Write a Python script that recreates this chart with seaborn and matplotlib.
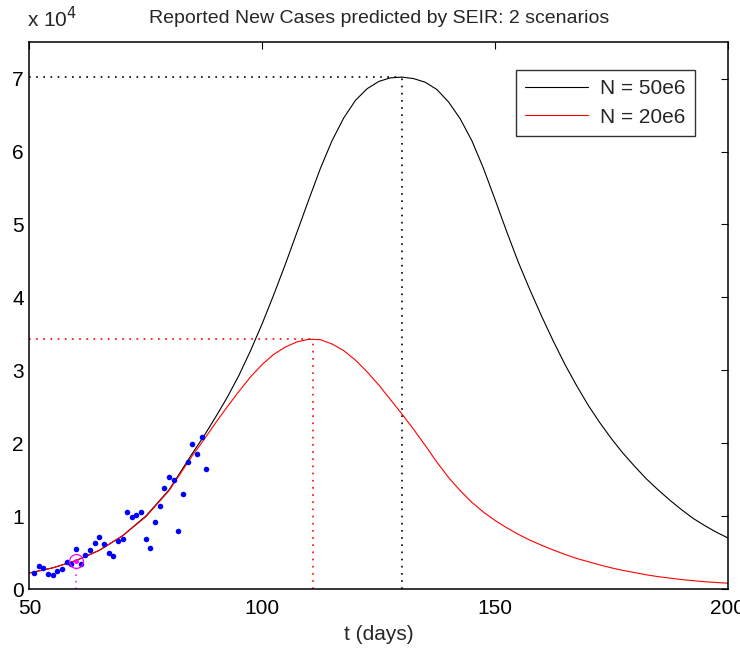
import numpy as np
import pandas as pd
import seaborn as sns
import matplotlib.pyplot as plt
from matplotlib.ticker import FuncFormatter

# model curves, values in units of 1e4 cases
t_model = [50, 55, 60, 65, 70, 75, 80, 85, 87.5, 90, 92.5, 95, 97.5, 100, 102.5, 105, 107.5,
           110, 112.5, 115, 117.5, 120, 122.5, 125, 127.5, 130, 132.5, 135, 137.5, 140,
           142.5, 145, 147.5, 150, 152.5, 155, 157.5, 160, 162.5, 165, 167.5, 170, 172.5,
           175, 177.5, 180, 182.5, 185, 187.5, 190, 192.5, 195, 197.5, 200]
cases_50e6 = [0.22, 0.29, 0.39, 0.53, 0.73, 1.00, 1.36, 1.86, 2.10, 2.36, 2.63, 2.93, 3.27,
              3.64, 4.04, 4.46, 4.90, 5.34, 5.77, 6.15, 6.46, 6.70, 6.86, 6.96, 7.01, 7.02,
              7.00, 6.95, 6.85, 6.68, 6.45, 6.15, 5.77, 5.34, 4.90, 4.48, 4.10, 3.74, 3.40,
              3.08, 2.79, 2.52, 2.28, 2.06, 1.86, 1.68, 1.51, 1.36, 1.22, 1.09, 0.97, 0.87,
              0.78, 0.70]
cases_20e6 = [0.22, 0.29, 0.39, 0.53, 0.73, 0.99, 1.35, 1.83, 2.05, 2.28, 2.50, 2.71, 2.91,
              3.08, 3.22, 3.32, 3.39, 3.425, 3.42, 3.36, 3.27, 3.14, 2.98, 2.80, 2.60, 2.40,
              2.19, 1.97, 1.74, 1.53, 1.35, 1.19, 1.055, 0.94, 0.84, 0.75, 0.67, 0.60, 0.535,
              0.475, 0.42, 0.375, 0.33, 0.29, 0.255, 0.225, 0.195, 0.17, 0.15, 0.13, 0.115,
              0.10, 0.09, 0.08]

# reported daily new cases
t_obs = list(range(51, 89))
cases_obs = [0.22, 0.32, 0.29, 0.21, 0.195, 0.25, 0.27, 0.37, 0.35, 0.55, 0.34, 0.46, 0.54,
             0.63, 0.72, 0.62, 0.50, 0.45, 0.66, 0.69, 1.05, 0.99, 1.02, 1.06, 0.68, 0.56,
             0.92, 1.14, 1.39, 1.53, 1.49, 0.79, 1.31, 1.74, 1.99, 1.85, 2.08, 1.65]

peak_t = [130, 111]
peak_val = [7.02, 3.43]
fit_t, fit_val = 60, 0.39
scenarios = ['N = 50e6', 'N = 20e6']
colors = ['black', 'red']

model = pd.DataFrame({'t': t_model * 2,
                      'cases': np.array(cases_50e6 + cases_20e6) * 1e4,
                      'scenario': [scenarios[0]] * len(t_model) + [scenarios[1]] * len(t_model)})
obs = pd.DataFrame({'t': t_obs, 'cases': np.array(cases_obs) * 1e4})

sns.set_style('white')
plt.rcParams['font.family'] = ['Liberation Sans', 'DejaVu Sans']
fs = 15

fig = plt.figure(figsize=(7.4, 6.48), dpi=100)
ax = fig.add_axes([0.0397, 0.091, 0.944, 0.844])

sns.lineplot(data=model, x='t', y='cases', hue='scenario', palette=colors,
             linewidth=0.8, ax=ax)

dots = (0, (1, 3.3))
for pt, pv, c in zip(peak_t, peak_val, colors):
    ax.plot([50, pt], [pv * 1e4, pv * 1e4], color=c, linestyle=dots, linewidth=1.2)
    ax.plot([pt, pt], [0, pv * 1e4], color=c, linestyle=dots, linewidth=1.2)

ax.plot([fit_t, fit_t], [0, fit_val * 1e4], color='magenta', linestyle=dots, linewidth=1.1)

sns.scatterplot(data=obs, x='t', y='cases', color='blue', s=16, linewidth=0, ax=ax,
                zorder=3)

ax.plot(fit_t, fit_val * 1e4, 'o', color='magenta', markersize=10, mfc='none', mew=0.9,
        zorder=4)
ax.plot(fit_t, fit_val * 1e4, '.', color='magenta', markersize=5, zorder=4)

ax.set_xlim(50, 200)
ax.set_ylim(0, 7.5e4)
ax.set_xticks([50, 100, 150, 200])
ax.set_yticks(np.arange(0, 8) * 1e4)
ax.yaxis.set_major_formatter(FuncFormatter(lambda v, p: f'{v / 1e4:g}'))
ax.tick_params(direction='in', length=5, width=0.8, top=True, right=True,
               labelsize=fs, colors='black')
ax.tick_params(axis='y', pad=4)
ax.tick_params(axis='x', pad=7)
for s in ax.spines.values():
    s.set_color('black')
    s.set_linewidth(1.1)

ax.set_xlabel('t (days)', fontsize=fs, labelpad=5)
ax.set_ylabel('')
ax.set_title('Reported New Cases predicted by SEIR: 2 scenarios', fontsize=14, pad=14)
fig.text(0.037, 0.958, r'x 10$^{4}$', fontsize=fs, ha='left', va='baseline')

leg = ax.legend(loc='upper right', bbox_to_anchor=(0.953, 0.949), borderaxespad=0,
                fontsize=fs, frameon=True, fancybox=False, edgecolor='black',
                handlelength=3.0, handletextpad=0.6, labelspacing=0.45, borderpad=0.45)
leg.get_frame().set_linewidth(1.0)

fig.savefig('out.png', dpi=100)
